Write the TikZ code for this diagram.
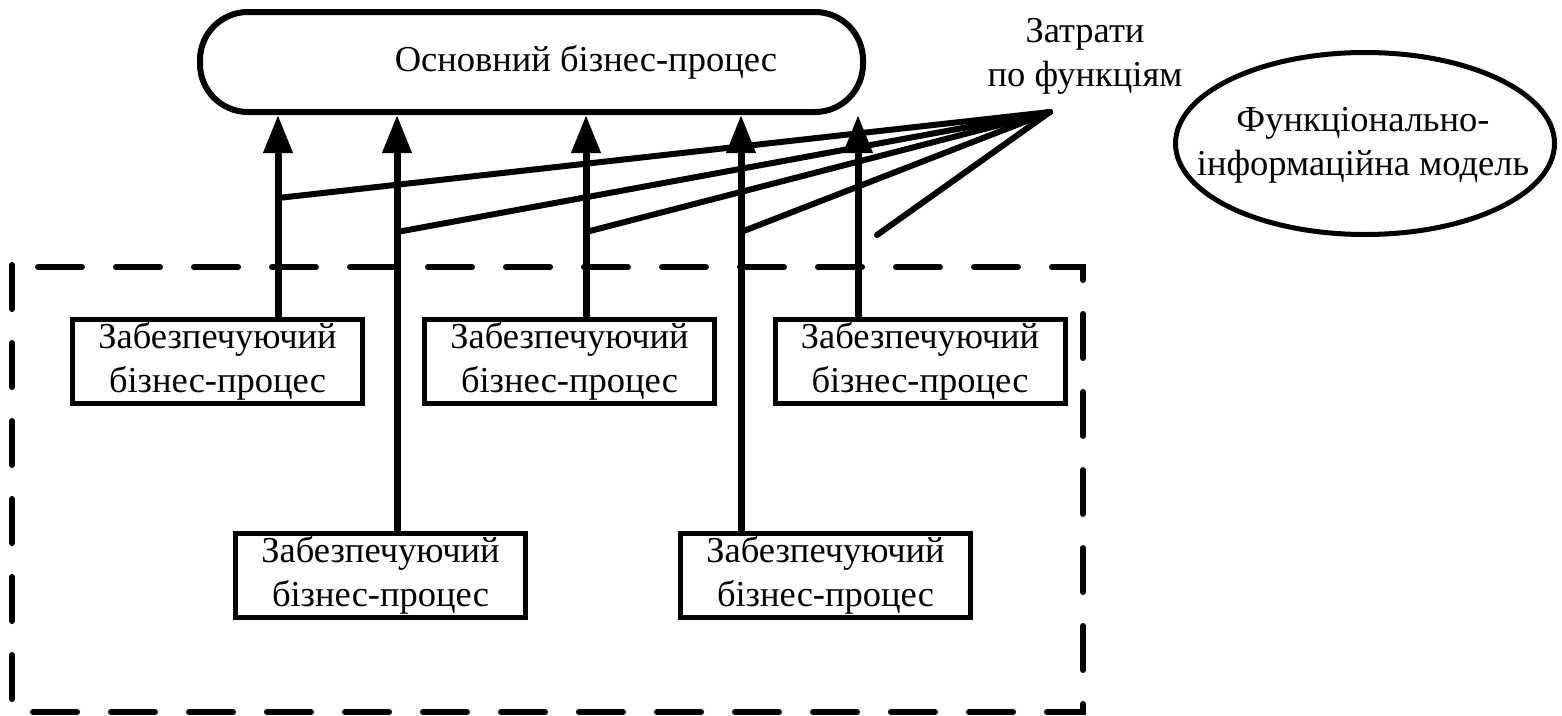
\documentclass[tikz,border=0pt]{standalone}
\usepackage{fontspec}
\setmainfont{Liberation Serif}
\usetikzlibrary{arrows.meta,shapes.geometric}
\begin{document}
\begin{tikzpicture}[x=1pt,y=-1pt,
  txt/.style={font=\fontsize{36.5}{44}\selectfont,align=center,inner sep=0pt},
  proc/.style={txt,draw,line width=5pt,minimum width=290pt,minimum height=84pt},
  mainproc/.style={draw,line width=6pt,rounded corners=48pt,minimum width=663pt,minimum height=100pt,inner sep=0pt},
  model/.style={draw,ellipse,line width=5pt,minimum width=379pt,minimum height=182pt,inner sep=0pt},
  up/.style={line width=7pt,-{Triangle[length=38pt,width=28pt]}},
  cost/.style={line width=6pt,line cap=round},
  dashbox/.style={line width=6pt,line cap=round,dash pattern=on 44pt off 34pt}]
\useasboundingbox (0,0) rectangle (1562,715);
% frame
\draw[dashbox] (12,265) -- (12,712) -- (1083,712) -- (1083,267) -- (12,267);
% main process
\node[mainproc] (mainbox) at (531.5,62) {};
\node[txt] (maintext) at (586,62) {Основний бізнес-процес};
% label and model
\node[txt] (costlbl) at (1085,56) {Затрати\\по функціям};
\node[model] (model) at (1365,143.5) {};
\node[txt] (modeltext) at (1363,145) {Функціонально-\\інформаційна модель};
% supporting processes
\node[proc] (b1) at (217.5,361.5) {Забезпечуючий\\бізнес-процес};
\node[proc] (b2) at (569.5,361.5) {Забезпечуючий\\бізнес-процес};
\node[proc] (b3) at (920,361.5) {Забезпечуючий\\бізнес-процес};
\node[proc] (b4) at (380.5,575) {Забезпечуючий\\бізнес-процес};
\node[proc] (b5) at (825.5,575) {Забезпечуючий\\бізнес-процес};
% arrow x positions
\coordinate (x1) at (278,0);
\coordinate (x2) at (397,0);
\coordinate (x3) at (586,0);
\coordinate (x4) at (741,0);
\coordinate (x5) at (858,0);
\draw[up] (x1 |- b1.north) -- (x1 |- mainbox.south);
\draw[up] (x2 |- b4.north) -- (x2 |- mainbox.south);
\draw[up] (x3 |- b2.north) -- (x3 |- mainbox.south);
\draw[up] (x4 |- b5.north) -- (x4 |- mainbox.south);
\draw[up] (x5 |- b3.north) -- (x5 |- mainbox.south);
% cost lines
\coordinate (c) at (1050,112);
\coordinate (j1) at (278,198);
\coordinate (j2) at (397,232);
\coordinate (j3) at (586,232);
\coordinate (j4) at (741,232);
\coordinate (f) at (877,235);
\draw[cost] (c) -- (j1);
\draw[cost] (c) -- (j2);
\draw[cost] (c) -- (j3);
\draw[cost] (c) -- (j4);
\draw[cost] (c) -- (f);
\end{tikzpicture}
\end{document}
